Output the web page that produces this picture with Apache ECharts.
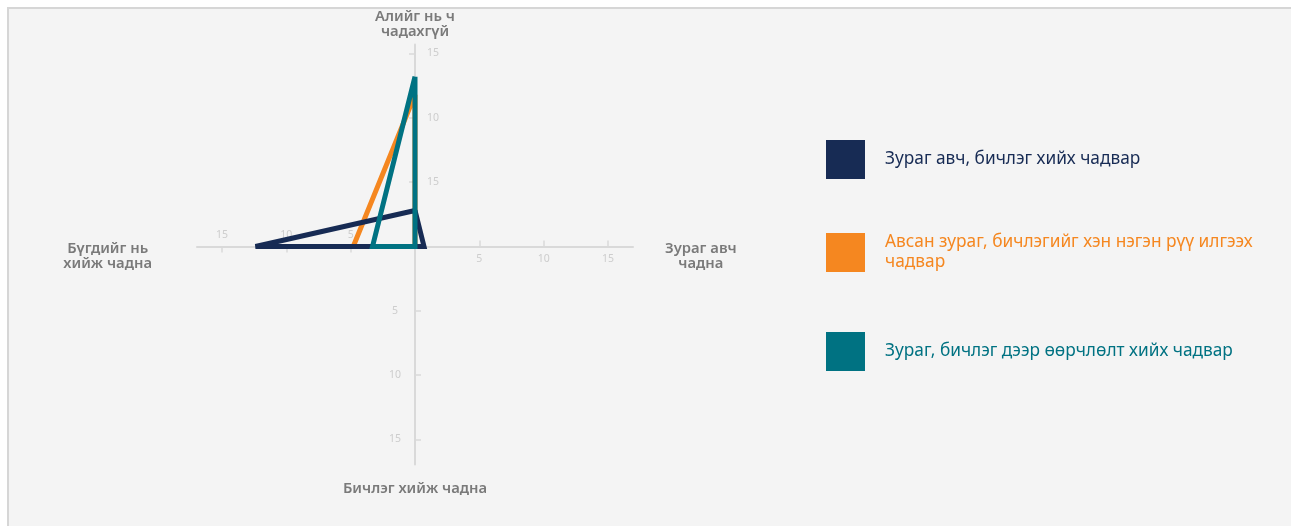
<!DOCTYPE html>
<html><head><meta charset="utf-8">
<script src="https://cdn.jsdelivr.net/npm/echarts@6/dist/echarts.min.js"></script>
<style>
html,body{margin:0;padding:0;background:#fff;width:1291px;height:526px;overflow:hidden}
#bg{position:absolute;left:7px;top:7px;width:1284px;height:519px;background:#f4f4f4;border-top:2px solid #d6d6d6;border-left:2px solid #d6d6d6;box-sizing:border-box}
#chart{position:absolute;left:0;top:0;width:1291px;height:526px}
</style></head><body><div id="bg"></div><div id="chart"></div>
<script>
// indicator order: top, left, bottom, right (radar goes counter-clockwise from the top)
const axisNames = ['Алийг нь ч\nчадахгүй', 'Бүгдийг нь\nхийж чадна', 'Бичлэг хийж чадна', 'Зураг авч\nчадна'];
const tickValues = [5, 10, 15];
const topTickLabels = ['15', '10', '15'];
const otherTickLabels = ['5', '10', '15'];
const axisMax = 15;

const seriesNames = ['Зураг авч, бичлэг хийх чадвар', 'Авсан зураг, бичлэгийг хэн нэгэн рүү илгээх чадвар', 'Зураг, бичлэг дээр өөрчлөлт хийх чадвар'];
const legendLabels = ['Зураг авч, бичлэг хийх чадвар', 'Авсан зураг, бичлэгийг хэн нэгэн рүү илгээх\nчадвар', 'Зураг, бичлэг дээр өөрчлөлт хийх чадвар'];
const navyValues = [2.8, 12.4, 0, 0.7];
const orangeValues = [11.8, 4.8, 0, 0];
const tealValues = [13.2, 3.3, 0, 0];
const seriesValues = [navyValues, orangeValues, tealValues];
const colors = ['#172B54', '#F58720', '#007282'];

const FONT = "'Noto Sans', 'Open Sans', sans-serif";
const CENTER = [415, 246.5];
const AXIS_COLOR = '#d9d9d9';

function tickFormatter(labels) {
  return function (v) {
    const i = tickValues.indexOf(v);
    return i >= 0 ? labels[i] : '';
  };
}

const labelMargins = [-18, -11, -20, -13];
const nameGaps = [-11, 45, 17, 32];
const namePads = [0, 19, 0, 19];

const radarTicks = {
  center: CENTER, radius: 193, startAngle: 90, shape: 'polygon', splitNumber: 3,
  indicator: axisNames.map((n, i) => ({
    name: n, max: axisMax, min: 0,
    axisLabel: { margin: labelMargins[i], formatter: tickFormatter(i === 0 ? topTickLabels : otherTickLabels) }
  })),
  axisName: { show: false },
  axisLine: { show: false },
  splitLine: { show: false },
  splitArea: { show: false },
  axisTick: { show: true, length: 6, lineStyle: { color: AXIS_COLOR, width: 1.5 } },
  axisLabel: { show: true, color: '#cdcdcd', fontSize: 10.5, fontFamily: FONT, align: 'center', verticalAlign: 'middle' }
};
const radarTicks2 = {
  center: CENTER, radius: 193, startAngle: 90, shape: 'polygon', splitNumber: 3,
  indicator: axisNames.map(n => ({ name: n, max: axisMax, min: 0 })),
  axisName: { show: false },
  axisLine: { show: false },
  splitLine: { show: false },
  splitArea: { show: false },
  axisTick: { show: true, inside: true, length: 6, lineStyle: { color: AXIS_COLOR, width: 1.5 } },
  axisLabel: { show: false }
};
const radarLines = {
  center: CENTER, radius: 218, startAngle: 90, shape: 'polygon', splitNumber: 3,
  indicator: axisNames.map((n, i) => ({
    name: n, max: axisMax, min: 0, nameGap: nameGaps[i],
    nameTextStyle: { padding: [namePads[i], 0, 0, 0] },
    axisLine: { show: i !== 0 }
  })),
  axisName: {
    show: true,
    formatter: function (name) {
      return name.split('\n').map(l => '{c|' + l + '}').join('\n');
    },
    rich: { c: { align: 'center', color: '#7a7a7a', fontSize: 14.8, fontWeight: 600, fontFamily: FONT, lineHeight: 15 } }
  },
  axisLine: { show: true, lineStyle: { color: AXIS_COLOR, width: 2 } },
  splitLine: { show: false },
  splitArea: { show: false },
  axisTick: { show: false },
  axisLabel: { show: false }
};
const radarTop = {
  center: CENTER, radius: 202, startAngle: 90, shape: 'polygon', splitNumber: 3,
  indicator: axisNames.map((n, i) => ({ name: n, max: axisMax, min: 0, axisLine: { show: i === 0 } })),
  axisName: { show: false },
  axisLine: { show: true, lineStyle: { color: AXIS_COLOR, width: 2 } },
  splitLine: { show: false },
  splitArea: { show: false },
  axisTick: { show: false },
  axisLabel: { show: false }
};

const drawOrder = [1, 0, 2];
const series = drawOrder.map(i => ({
  type: 'radar', radarIndex: 0, name: seriesNames[i],
  symbol: 'none', silent: true,
  itemStyle: { color: colors[i] },
  lineStyle: { color: colors[i], width: 5, join: 'miter', miterLimit: 4 },
  data: [{ name: seriesNames[i], value: seriesValues[i] }]
}));

const legendTops = [140, 232.5, 332];
const legend = seriesNames.map((n, i) => ({
  data: [n], left: 826, top: legendTops[i], orient: 'vertical', padding: 0,
  itemWidth: 39, itemHeight: 39, icon: 'rect', selectedMode: false,
  itemStyle: { borderWidth: 0 },
  formatter: () => legendLabels[i],
  textStyle: { color: colors[i], fontSize: 17.3, fontFamily: FONT, lineHeight: 20, padding: [0, 0, 0, 15] }
}));

const chart = echarts.init(document.getElementById('chart'), null, { renderer: 'canvas' });
chart.setOption({
  backgroundColor: 'transparent',
  animation: false,
  radar: [radarTicks, radarTicks2, radarLines, radarTop],
  legend: legend,
  series: series
});
</script></body></html>
